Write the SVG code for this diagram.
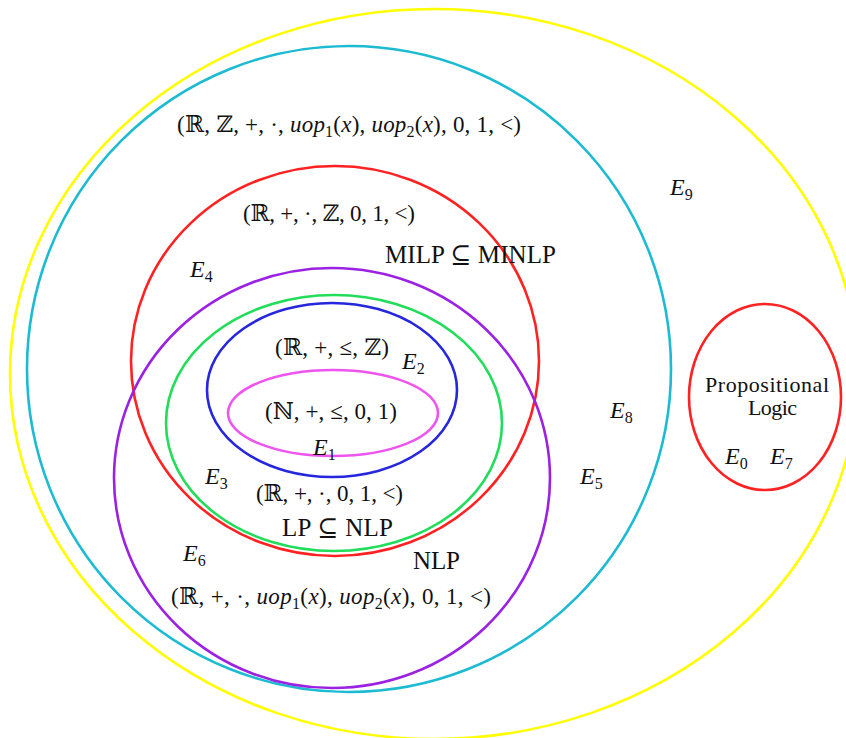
<svg xmlns="http://www.w3.org/2000/svg" width="846" height="738" viewBox="0 0 846 738">
<style>
.s{fill:none;stroke-width:2.6}
.t{font-family:"Liberation Serif","DejaVu Serif",serif;font-size:23px;fill:#111}
.w{font-family:"Liberation Serif","DejaVu Serif",serif;font-size:25px;fill:#111}
.e{font-family:"Liberation Serif","DejaVu Serif",serif;font-size:24px;font-style:italic;fill:#111}
.i{font-style:italic}
.sub{font-size:16px;font-style:normal}
.p{font-family:"Liberation Serif","DejaVu Serif",serif;font-size:22px;fill:#111}
</style>
<rect width="846" height="738" fill="#fff"/>
<g id="E9">
<ellipse class="s" cx="434" cy="374" rx="424" ry="365" stroke="#ffff00"/>
<text class="e" x="670" y="195">E<tspan class="sub" dy="5">9</tspan></text>
</g>
<g id="E8">
<ellipse class="s" cx="349" cy="369" rx="322" ry="323" stroke="#1cbbd2"/>
<text class="t" x="177" y="132" textLength="344">(ℝ, ℤ, +, ·, <tspan class="i">uop</tspan><tspan class="sub" dy="5">1</tspan><tspan dy="-5">(</tspan><tspan class="i">x</tspan>), <tspan class="i">uop</tspan><tspan class="sub" dy="5">2</tspan><tspan dy="-5">(</tspan><tspan class="i">x</tspan>), 0, 1, &lt;)</text>
<text class="e" x="610" y="418">E<tspan class="sub" dy="5">8</tspan></text>
</g>
<g id="E4">
<ellipse class="s" cx="335" cy="361" rx="204" ry="195" stroke="#ff2222"/>
<text class="t" x="243" y="221" textLength="172">(ℝ, +, ·, ℤ, 0, 1, &lt;)</text>
<text class="w" x="385" y="263" textLength="171">MILP ⊆ MINLP</text>
<text class="e" x="190" y="277">E<tspan class="sub" dy="5">4</tspan></text>
</g>
<g id="E5">
<ellipse class="s" cx="332" cy="478" rx="218" ry="210" stroke="#9b22e2"/>
<text class="w" x="413" y="569" textLength="47">NLP</text>
<text class="t" x="171" y="604" textLength="320">(ℝ, +, ·, <tspan class="i">uop</tspan><tspan class="sub" dy="5">1</tspan><tspan dy="-5">(</tspan><tspan class="i">x</tspan>), <tspan class="i">uop</tspan><tspan class="sub" dy="5">2</tspan><tspan dy="-5">(</tspan><tspan class="i">x</tspan>), 0, 1, &lt;)</text>
<text class="e" x="580" y="484">E<tspan class="sub" dy="5">5</tspan></text>
<text class="e" x="183" y="561">E<tspan class="sub" dy="5">6</tspan></text>
</g>
<g id="E3">
<ellipse class="s" cx="334" cy="423" rx="168" ry="128" stroke="#22dd5a"/>
<text class="t" x="256" y="501" textLength="147">(ℝ, +, ·, 0, 1, &lt;)</text>
<text class="w" x="282" y="536" textLength="111">LP ⊆ NLP</text>
<text class="e" x="205" y="484">E<tspan class="sub" dy="5">3</tspan></text>
</g>
<g id="E2">
<ellipse class="s" cx="332" cy="390" rx="125" ry="87" stroke="#2626dd"/>
<text class="t" x="275" y="355" textLength="114">(ℝ, +, ≤, ℤ)</text>
<text class="e" x="402" y="369">E<tspan class="sub" dy="5">2</tspan></text>
</g>
<g id="E1">
<ellipse class="s" cx="333" cy="413" rx="105" ry="43" stroke="#ee55ee"/>
<text class="t" x="265" y="419" textLength="132">(ℕ, +, ≤, 0, 1)</text>
<text class="e" x="313" y="455">E<tspan class="sub" dy="5">1</tspan></text>
</g>
<g id="E0">
<ellipse class="s" cx="765" cy="397" rx="76" ry="93" stroke="#ff2222"/>
<text class="p" x="705" y="392" textLength="124">Propositional</text>
<text class="p" x="748" y="415" textLength="49">Logic</text>
<text class="e" x="725" y="464">E<tspan class="sub" dy="5">0</tspan></text>
<text class="e" x="770" y="464">E<tspan class="sub" dy="5">7</tspan></text>
</g>
</svg>
